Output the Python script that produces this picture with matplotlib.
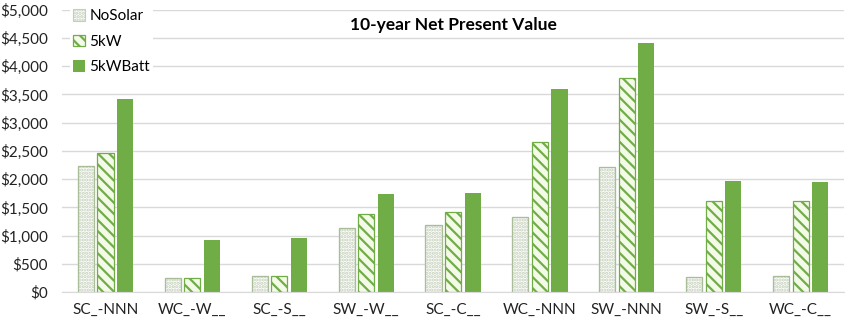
import numpy as np
import matplotlib.pyplot as plt
from matplotlib.ticker import FuncFormatter

plt.rcParams['font.family'] = ['Lato', 'DejaVu Sans']
plt.rcParams['hatch.linewidth'] = 1.6

categories = ['SC_-NNN', 'WC_-W__', 'SC_-S__', 'SW_-W__', 'SC_-C__',
              'WC_-NNN', 'SW_-NNN', 'SW_-S__', 'WC_-C__']
nosolar = [2240, 250, 290, 1140, 1190, 1330, 2220, 270, 280]
kw5 = [2460, 250, 290, 1380, 1420, 2660, 3800, 1610, 1610]
kw5batt = [3420, 920, 960, 1740, 1760, 3600, 4410, 1970, 1950]

green = '#70AD47'

fig = plt.figure(figsize=(8.5, 3.24), dpi=100)
ax = fig.add_axes([0.073, 0.098, 0.92, 0.872])

x = np.arange(len(categories))
w = 0.185
off = 0.225
ax.bar(x - off, nosolar, w, facecolor='white', edgecolor='#c3cfb8',
       hatch='.....', linewidth=0.8, label='NoSolar')
ax.bar(x - off, nosolar, w, facecolor='none', edgecolor='#a9bd98',
       linewidth=0.9)
ax.bar(x, kw5, w, facecolor='#f4fae8', edgecolor=green, hatch='\\\\\\',
       linewidth=0.9, label='5kW')
ax.bar(x + off, kw5batt, w, color=green, label='5kWBatt')

ax.set_ylim(0, 5000)
ax.set_xlim(-0.5, len(categories) - 0.5)
ax.set_yticks(np.arange(0, 5001, 500))
ax.yaxis.set_major_formatter(FuncFormatter(lambda v, p: '${:,.0f}'.format(v)))
ax.set_xticks(x)
ax.set_xticklabels(categories)
ax.tick_params(axis='both', length=0, labelsize=11, colors='#222222')
ax.tick_params(axis='x', pad=8)
ax.tick_params(axis='y', pad=10)
ax.grid(axis='y', color='#d9d9d9', linewidth=1)
ax.set_axisbelow(True)
for s in ['top', 'right', 'left']:
    ax.spines[s].set_visible(False)
ax.spines['bottom'].set_color('#d9d9d9')

ax.set_title('10-year Net Present Value', fontsize=12.5, fontweight='bold',
             y=0.9)

ax.legend(loc='upper left', bbox_to_anchor=(0.0, 1.04), frameon=True,
          facecolor='white', edgecolor='none', framealpha=1,
          fontsize=11, handlelength=0.8, handleheight=0.8,
          handletextpad=0.3, labelspacing=0.75, borderpad=0.2)

fig.savefig('out.png', dpi=100)
